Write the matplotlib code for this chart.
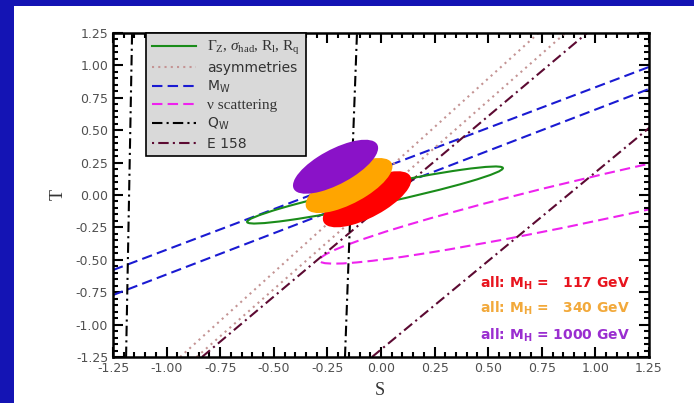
import matplotlib
matplotlib.use('Agg')
import matplotlib.pyplot as plt
from matplotlib.patches import Ellipse, Rectangle
from matplotlib.ticker import MultipleLocator
from matplotlib.lines import Line2D
import numpy as np

plt.rcParams['mathtext.fontset'] = 'custom'
plt.rcParams['mathtext.rm'] = 'Liberation Serif'
plt.rcParams['mathtext.it'] = 'Liberation Serif:italic'
plt.rcParams['mathtext.sf'] = 'DejaVu Sans'
plt.rcParams['mathtext.bf'] = 'DejaVu Sans:bold'

# constraint bands
# M_W: T at S=-1.25 and at S=1.25
mw_T_left = [-0.579, -0.772]
mw_T_right = [0.988, 0.818]
# asymmetries: S at T=-1.25 and at T=1.25
asym_S_bottom = [-0.937, -0.86]
asym_S_top = [0.735, 0.86]
# E 158
e158_S_bottom = [-0.835, -0.042]
e158_S_top = [0.961, 1.786]
# Q_W
qw_S_bottom = [-1.189, -0.168]
qw_S_top = [-1.161, -0.112]

# ellipses: center S, center T, full width, full height, angle (deg)
gz_ell = (-0.028, 0.0, 1.264, 0.14, 19.4)
nu_ell = (1.25, 0.065, 3.28, 0.33, 20.5)

mh_labels = ['117', '340', '1000']
mh_S = [-0.065, -0.149, -0.212]
mh_T = [-0.033, 0.073, 0.218]
mh_width = [0.55, 0.54, 0.53]
mh_height = [0.235, 0.23, 0.225]
mh_angle = [47, 47, 47]
mh_colors = ['#ff0000', '#ffa500', '#8a12c8']
mh_text_colors = ['#e8141e', '#f2a93b', '#9a2ed0']

lim = (-1.25, 1.25)

fig = plt.figure(figsize=(6.94, 4.03), dpi=100)
fig.patch.set_facecolor('#1414b4')
fig.patches.append(Rectangle((14 / 694, 0), 1, 1 - 6 / 403, transform=fig.transFigure,
                             facecolor='white', edgecolor='none', zorder=-10))
ax = fig.add_axes([113 / 694, 1 - 357 / 403, 536 / 694, 324 / 403])

lw = 1.5
blue = '#1a1ad2'
magenta = '#ee22ee'
dotc = '#c49494'
maroon = '#5c0a32'
green = '#1a8c1a'

for a, b in zip(mw_T_left, mw_T_right):
    ax.plot(lim, [a, b], color=blue, lw=lw, ls=(0, (5, 2.5)))
for a, b in zip(asym_S_bottom, asym_S_top):
    ax.plot([a, b], lim, color=dotc, lw=lw, ls=(0, (1, 2)))
for a, b in zip(e158_S_bottom, e158_S_top):
    ax.plot([a, b], lim, color=maroon, lw=lw, ls=(0, (5, 2, 1, 2)))
for a, b in zip(qw_S_bottom, qw_S_top):
    ax.plot([a, b], lim, color='black', lw=lw, ls=(0, (5, 2, 1, 2)))

ax.add_patch(Ellipse(nu_ell[:2], nu_ell[2], nu_ell[3], angle=nu_ell[4], fill=False,
                     edgecolor=magenta, lw=lw, ls=(0, (5, 2.5))))
ax.add_patch(Ellipse(gz_ell[:2], gz_ell[2], gz_ell[3], angle=gz_ell[4], fill=False,
                     edgecolor=green, lw=lw, zorder=3))

for i in range(3):
    ax.add_patch(Ellipse((mh_S[i], mh_T[i]), mh_width[i], mh_height[i], angle=mh_angle[i],
                         facecolor=mh_colors[i], edgecolor='none', zorder=4))

ty = [0.2284, 0.151, 0.068]
for i, lab in enumerate(mh_labels):
    pad = '  ' if len(lab) == 3 else ''
    ax.text(0.9646, ty[i], r'all: M$_{\mathbf{H}}$ = ' + pad + lab + ' GeV',
            transform=ax.transAxes, ha='right', va='center', color=mh_text_colors[i],
            fontsize=10, fontweight='bold', family='DejaVu Sans', zorder=5)

ax.set_xlim(lim)
ax.set_ylim(lim)
ax.xaxis.set_major_locator(MultipleLocator(0.25))
ax.yaxis.set_major_locator(MultipleLocator(0.25))
ax.xaxis.set_minor_locator(MultipleLocator(0.05))
ax.yaxis.set_minor_locator(MultipleLocator(0.05))
ax.tick_params(which='both', direction='in', top=True, right=True, width=1.5,
               labelsize=9, labelcolor='#505050')
ax.tick_params(which='major', length=7)
ax.tick_params(which='minor', length=3.5)
ax.xaxis.set_major_formatter(plt.FuncFormatter(lambda v, p: f'{v:.2f}'))
ax.yaxis.set_major_formatter(plt.FuncFormatter(lambda v, p: f'{v:.2f}'))
for s in ax.spines.values():
    s.set_linewidth(1.8)

ax.set_xlabel('S', family='Liberation Serif', fontsize=13, color='#333333')
ax.set_ylabel('T', family='Liberation Serif', fontsize=13, color='#333333')
ax.xaxis.set_label_coords(0.498, -0.077)
ax.yaxis.set_label_coords(-0.086, 0.5)

handles = [
    Line2D([], [], color=green, lw=lw),
    Line2D([], [], color=dotc, lw=lw, ls=(0, (1, 2))),
    Line2D([], [], color=blue, lw=lw, ls=(0, (5, 2.5))),
    Line2D([], [], color=magenta, lw=lw, ls=(0, (5, 2.5))),
    Line2D([], [], color='black', lw=lw, ls=(0, (5, 2, 1, 2))),
    Line2D([], [], color=maroon, lw=lw, ls=(0, (1, 2, 5, 2))),
]
labels = [r'$\Gamma_{\rm Z}$, $\sigma_{\rm had}$, $\rm R_l$, $\rm R_q$', 'asymmetries',
          r'M$_\mathsf{W}$', 'ν scattering', r'Q$_\mathsf{W}$', 'E 158']
leg = ax.legend(handles, labels, loc='upper left', bbox_to_anchor=(0.0616, 1.0),
                borderaxespad=0, fancybox=False, framealpha=1, facecolor='#d9d9d9',
                edgecolor='black', handlelength=3.2, handletextpad=0.8,
                labelspacing=0.3, borderpad=0.4, prop={'family': 'DejaVu Sans', 'size': 10})
leg.get_frame().set_linewidth(1.2)
leg.set_zorder(6)
for t in leg.get_texts():
    t.set_color('#333333')
leg.get_texts()[0].set_family('Liberation Serif')
leg.get_texts()[0].set_fontsize(11)
leg.get_texts()[3].set_family('Liberation Serif')
leg.get_texts()[3].set_fontsize(11)

fig.savefig('out.png', dpi=100, facecolor=fig.get_facecolor())
